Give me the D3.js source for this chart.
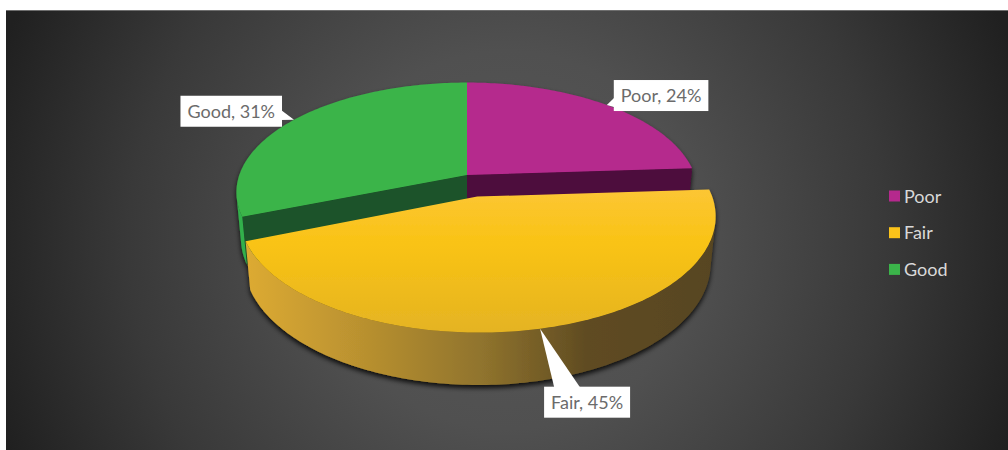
<!DOCTYPE html>
<html>
<head>
<meta charset="utf-8">
<script src="https://cdn.jsdelivr.net/npm/d3@7"></script>
<style>
  body { margin: 0; background: #fff; }
  svg { display: block; font-family: Lato, "Open Sans", sans-serif; }
</style>
</head>
<body>
<div id="chart"></div>
<script>
// chart data
const categories = ['Poor', 'Fair', 'Good'];
const shares = [24, 45, 31];
const labels = ['Poor, 24%', 'Fair, 45%', 'Good, 31%'];
const explodedCategory = 'Fair';

const topColors = {Poor: '#b5298d', Fair: 'url(#fairTop)', Good: '#3bb44a'};
const faceColors = {Poor: '#4e0a3c', Fair: '#6b5520', Good: '#1b5229'};
const wallColors = {Poor: '#7a1660', Fair: 'url(#fairWall)', Good: '#32b04b'};
const legendColors = {Poor: '#b5298d', Fair: '#fbc31a', Good: '#3bb44a'};

let width = 1008,
    height = 450;

// 3d view (pie radius = 1 in world units)
let view = {cx: 467, cy: 175, f: 1275, D: 5.6, phi: 0.4893, H: 0.232, explode: 0.2};
let sn = Math.sin(view.phi), cs = Math.cos(view.phi);

function project(X, Y, Z) {
  let depth = view.D - Y * sn - Z * cs;
  return [view.cx + view.f * X / depth, view.cy - view.f * (Y * cs - Z * sn) / depth];
}

function rim(sl, t, r, y) {
  return project(sl.ox + r * Math.sin(t), y, sl.oz - r * Math.cos(t));
}

// normal (pointing toward angle a) faces the camera?
function facing(a, px, pz) {
  let nx = Math.sin(a), nz = -Math.cos(a);
  return nx * (0 - px) + nz * (view.D * cs - pz) > 1e-6;
}

let svg = d3.select('#chart')
  .append('svg')
  .attr('width', width)
  .attr('height', height);

let defs = svg.append('defs');

let bg = defs.append('radialGradient')
  .attr('id', 'bg')
  .attr('gradientUnits', 'userSpaceOnUse')
  .attr('cx', 507).attr('cy', 240).attr('r', 540);
[[0, '#585858'], [0.35, '#505050'], [0.7, '#393939'], [1, '#202020']]
  .forEach(s => bg.append('stop').attr('offset', s[0]).attr('stop-color', s[1]));

let fw = defs.append('linearGradient')
  .attr('id', 'fairWall')
  .attr('gradientUnits', 'userSpaceOnUse')
  .attr('x1', 248).attr('x2', 720).attr('y1', 0).attr('y2', 0);
[[0, '#dcaa33'], [0.25, '#b8902f'], [0.5, '#8f732d'], [0.72, '#5f4b22'], [1, '#574520']]
  .forEach(s => fw.append('stop').attr('offset', s[0]).attr('stop-color', s[1]));

let ft = defs.append('linearGradient')
  .attr('id', 'fairTop')
  .attr('gradientUnits', 'userSpaceOnUse')
  .attr('x1', 0).attr('x2', 0).attr('y1', 186).attr('y2', 334);
[[0, '#fcc636'], [0.4, '#f9c314'], [1, '#e4b323']]
  .forEach(s => ft.append('stop').attr('offset', s[0]).attr('stop-color', s[1]));

let shadow = defs.append('filter')
  .attr('id', 'shadow')
  .attr('x', '-10%').attr('y', '-10%').attr('width', '120%').attr('height', '130%');
shadow.append('feDropShadow')
  .attr('dx', 0).attr('dy', 3).attr('stdDeviation', 2.5)
  .attr('flood-color', '#000').attr('flood-opacity', 0.85);

// background
svg.append('rect')
  .attr('x', 6).attr('y', 10)
  .attr('width', width - 6).attr('height', height - 10)
  .attr('fill', 'url(#bg)');
svg.append('line')
  .attr('x1', 6).attr('x2', width).attr('y1', 10.5).attr('y2', 10.5)
  .attr('stroke', '#6e6e6e');

let pie = d3.pie()
  .value(d => d)
  .sort(null);

let slices = pie(shares).map((d, i) => {
  let mid = (d.startAngle + d.endAngle) / 2,
      e = categories[i] === explodedCategory ? view.explode : 0;
  return {
    name: categories[i], label: labels[i],
    a0: d.startAngle, a1: d.endAngle, mid: mid,
    ox: e * Math.sin(mid), oz: -e * Math.cos(mid)
  };
});

let line = d3.line();
let step = Math.PI / 180;

function arcAngles(a0, a1) {
  return d3.range(a0, a1, step).concat([a1]);
}

let pieG = svg.append('g').attr('filter', 'url(#shadow)');

// back slices first
let order = slices.slice().sort((a, b) => a.oz - Math.cos(a.mid) * 0.5 - (b.oz - Math.cos(b.mid) * 0.5));

order.forEach(sl => {
  let g = pieG.append('g').attr('class', 'slice');

  // radial cut faces
  [[sl.a0, sl.a0 - Math.PI / 2], [sl.a1, sl.a1 + Math.PI / 2]].forEach(([a, n]) => {
    if (!facing(n, sl.ox, sl.oz)) return;
    let pts = [project(sl.ox, 0, sl.oz), rim(sl, a, 1, 0), rim(sl, a, 1, -view.H), project(sl.ox, -view.H, sl.oz)];
    g.append('path').attr('d', line(pts) + 'Z').attr('fill', faceColors[sl.name]);
  });

  // outer wall
  let vis = arcAngles(sl.a0, sl.a1).filter(t =>
    facing(t, sl.ox + Math.sin(t), sl.oz - Math.cos(t)));
  if (vis.length > 1) {
    let pts = vis.map(t => rim(sl, t, 1, 0))
      .concat(vis.slice().reverse().map(t => rim(sl, t, 1, -view.H)));
    g.append('path').attr('d', line(pts) + 'Z').attr('fill', wallColors[sl.name]);
  }

  // top
  let topPts = [project(sl.ox, 0, sl.oz)].concat(arcAngles(sl.a0, sl.a1).map(t => rim(sl, t, 1, 0)));
  g.append('path').attr('d', line(topPts) + 'Z').attr('fill', topColors[sl.name]);
});

// data labels with callouts
let callout = {
  Poor: {dx: 7, dy: -25, side: 'left', at: 0.72},
  Fair: {dx: 4, dy: 58, side: 'top', at: 0.27},
  Good: {dx: -112, dy: -24, side: 'right', at: 0.62}
};
let padX = 7, boxH = 31;

slices.forEach(sl => {
  let tip = rim(sl, sl.mid, 1, 0),
      c = callout[sl.name];
  let g = svg.append('g').attr('class', 'label');
  let wedge = g.append('path').attr('fill', '#fff');
  let box = g.append('rect').attr('fill', '#fff');
  let txt = g.append('text')
    .attr('font-size', 18)
    .attr('fill', '#6b6b6b')
    .text(sl.label);
  let w = txt.node().getComputedTextLength() + padX * 2;
  let x0 = tip[0] + c.dx, y0 = tip[1] + c.dy;
  if (c.side === 'right') x0 = tip[0] + c.dx - (w - 100);
  box.attr('x', x0).attr('y', y0).attr('width', w).attr('height', boxH);
  txt.attr('x', x0 + padX).attr('y', y0 + boxH / 2 + 6.5);
  let b1, b2;
  if (c.side === 'top') {
    let bx = x0 + w * c.at;
    b1 = [bx - 13, y0 + 1]; b2 = [bx + 13, y0 + 1];
  } else {
    let ex = c.side === 'left' ? x0 + 1 : x0 + w - 1,
        by = y0 + boxH * c.at;
    b1 = [ex, by - 5]; b2 = [ex, by + 5];
  }
  wedge.attr('d', line([tip, b1, b2]) + 'Z');
});

// legend
let legend = svg.append('g')
  .attr('transform', 'translate(889,196)');
let item = legend.selectAll('g.item')
  .data(categories)
  .enter().append('g')
    .attr('class', 'item')
    .attr('transform', (d, i) => `translate(0,${i * 36.7})`);
item.append('rect')
  .attr('x', 0).attr('y', -5.5)
  .attr('width', 11).attr('height', 11)
  .attr('fill', d => legendColors[d]);
item.append('text')
  .attr('x', 15).attr('y', 6.5)
  .attr('font-size', 18)
  .attr('fill', '#d9d9d9')
  .text(d => d);
</script>
</body>
</html>
